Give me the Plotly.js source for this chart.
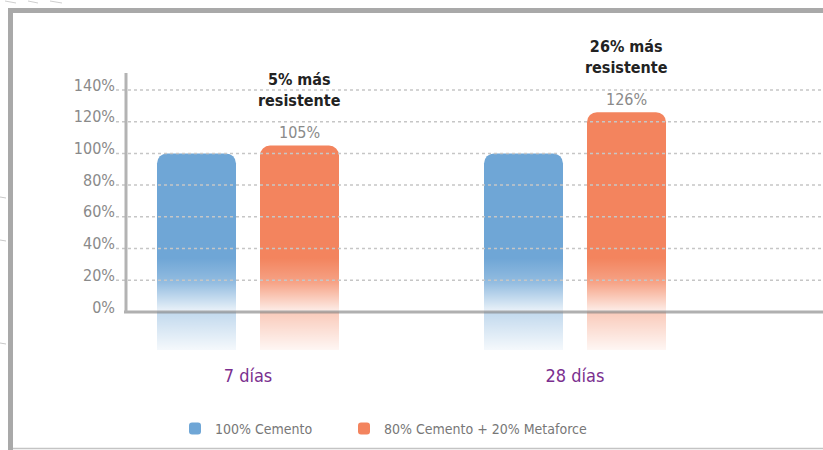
<!DOCTYPE html>
<html>
<head>
<meta charset="utf-8">
<script src="https://cdn.plot.ly/plotly-3.0.1.min.js"></script>
<style>html,body{margin:0;padding:0;background:#fff;}#chart{width:823px;height:450px;}</style>
</head>
<body>
<div id="chart"></div>
<script>
// ---- data ----
const categories = ['7 días', '28 días'];
const seriesNames = ['100% Cemento', '80% Cemento + 20% Metaforce'];
const cemento = [100, 100];
const metaforce = [105, 126];
const yTickValues = [0, 20, 40, 60, 80, 100, 120, 140];
const yTickLabels = ['0%', '20%', '40%', '60%', '80%', '100%', '120%', '140%'];

// ---- style / layout constants ----
const W = 823, H = 450;
const M = {l: 126, r: 0, t: 20, b: 100};
const REFLECT = -24;         // bars continue below the axis as a faded reflection
const FADE_TOP = 34;         // value where the bar starts fading
const BARGAP = 0.37, GROUPGAP = 0.233;
const slot = (1 - BARGAP) / 2;
const barW = slot * (1 - GROUPGAP);
const offs = [-slot / 2, slot / 2];
const colors = ['#6fa6d6', '#f3845e'];
const FONT = '"DejaVu Sans Condensed", "Liberation Sans Narrow", "Roboto", sans-serif';

const catPos = categories.map((c, i) => i);
const plotW = W - M.l - M.r, plotH = H - M.t - M.b;
const px2x = p => (p - M.l) / plotW;          // paper x from pixel
const px2y = p => (H - M.b - p) / plotH;      // paper y from pixel

const traces = [];
[cemento, metaforce].forEach((vals, s) => {
  traces.push({
    type: 'bar', name: seriesNames[s], legend: s === 0 ? 'legend' : 'legend2',
    offsetgroup: 'g' + s, x: catPos, y: vals,
    marker: {color: colors[s], cornerradius: 10, line: {width: 0}}, hoverinfo: 'skip'
  });
  // reflection below the axis (decorative, square ends)
  traces.push({
    type: 'bar', name: seriesNames[s], showlegend: false,
    offsetgroup: 'g' + s, x: catPos, y: vals.map(() => REFLECT),
    marker: {color: colors[s], line: {width: 0}}, hoverinfo: 'skip'
  });
});

// gradient overlay (white fade) drawn over the lower part of each bar
const zeroOff = FADE_TOP / (FADE_TOP - REFLECT);
const gradSvg = "<svg xmlns='http://www.w3.org/2000/svg' width='10' height='100' viewBox='0 0 10 100' preserveAspectRatio='none'>" +
  "<defs><linearGradient id='g' x1='0' y1='0' x2='0' y2='1'>" +
  "<stop offset='0' stop-color='#fff' stop-opacity='0'/>" +
  "<stop offset='" + (zeroOff * 0.45).toFixed(3) + "' stop-color='#fff' stop-opacity='0.25'/>" +
  "<stop offset='" + (zeroOff - 0.008).toFixed(3) + "' stop-color='#fff' stop-opacity='0.86'/>" +
  "<stop offset='" + (zeroOff + 0.008).toFixed(3) + "' stop-color='#fff' stop-opacity='0.58'/>" +
  "<stop offset='1' stop-color='#fff' stop-opacity='0.93'/>" +
  "</linearGradient></defs><rect width='10' height='100' fill='url(#g)'/></svg>";
const gradSrc = 'data:image/svg+xml;charset=utf-8,' + encodeURIComponent(gradSvg);
const images = [];
[cemento, metaforce].forEach((vals, s) => {
  vals.forEach((v, i) => {
    images.push({
      source: gradSrc, xref: 'x', yref: 'y',
      x: catPos[i] + offs[s] - barW / 2, y: FADE_TOP,
      sizex: barW, sizey: FADE_TOP - REFLECT,
      xanchor: 'left', yanchor: 'top', sizing: 'stretch', layer: 'above'
    });
  });
});

const shapes = [];
// dashed gridlines above bars
yTickValues.filter(v => v > 0).forEach(v => {
  shapes.push({type: 'line', xref: 'paper', yref: 'y', x0: px2x(116), x1: 1, y0: v, y1: v,
    line: {color: '#c6c6c6', width: 1.5, dash: '3px,3px'}, layer: 'above'});
});
// x axis (0%) line
shapes.push({type: 'line', xref: 'paper', yref: 'y', x0: px2x(124), x1: 1, y0: 0, y1: 0,
  line: {color: 'rgba(128,128,128,0.62)', width: 3}, layer: 'above'});
// y axis line
shapes.push({type: 'line', xref: 'paper', yref: 'paper', x0: px2x(126), x1: px2x(126), y0: px2y(312), y1: px2y(73),
  line: {color: '#b3b3b3', width: 3}, layer: 'above'});
// frame
shapes.push({type: 'rect', xref: 'paper', yref: 'paper', x0: px2x(8), x1: px2x(13), y0: px2y(450), y1: px2y(8),
  fillcolor: '#a9a9a9', line: {width: 0}, layer: 'above'});
shapes.push({type: 'rect', xref: 'paper', yref: 'paper', x0: px2x(8), x1: px2x(823), y0: px2y(13), y1: px2y(8),
  fillcolor: '#a9a9a9', line: {width: 0}, layer: 'above'});
shapes.push({type: 'line', xref: 'paper', yref: 'paper', x0: px2x(13), x1: px2x(823), y0: px2y(448.5), y1: px2y(448.5),
  line: {color: '#c4c4c4', width: 1.5}, layer: 'above'});
// small marks at far left and top-left
[197, 240, 343].forEach(p => shapes.push({type: 'line', xref: 'paper', yref: 'paper',
  x0: px2x(0), x1: px2x(6), y0: px2y(p), y1: px2y(p + 1), line: {color: '#c8c8c8', width: 1}, layer: 'above'}));
[[5, 16], [28, 38], [50, 62]].forEach(([a, b]) => shapes.push({type: 'line', xref: 'paper', yref: 'paper',
  x0: px2x(a), x1: px2x(b), y0: px2y(1), y1: px2y(3), line: {color: '#cfcfcf', width: 1}, layer: 'above'}));

const annotations = [];
metaforce.forEach((v, i) => {
  const x = catPos[i] + offs[1];
  annotations.push({x: x, y: v, xref: 'x', yref: 'y', text: v + '%', showarrow: false,
    yanchor: 'bottom', yshift: 1, font: {family: FONT, size: 16, color: '#8a8a8a'}});
  annotations.push({x: x, y: v, xref: 'x', yref: 'y',
    text: '<b>' + (v - cemento[i]) + '% más<br>resistente</b>', showarrow: false,
    yanchor: 'bottom', yshift: 33, font: {family: FONT, size: 16, color: '#222222'}});
});

const legendBase = {
  orientation: 'h', xanchor: 'left', y: px2y(445), yanchor: 'bottom',
  font: {family: FONT, size: 14, color: '#777777'},
  bgcolor: 'rgba(0,0,0,0)', borderwidth: 0
};

const layout = {
  width: W, height: H,
  margin: M,
  paper_bgcolor: '#fff', plot_bgcolor: 'rgba(0,0,0,0)',
  barmode: 'group', bargap: BARGAP, bargroupgap: GROUPGAP,
  xaxis: {
    range: [(M.l - 248) / 327, (W - 248) / 327],
    tickvals: catPos, ticktext: categories,
    showgrid: false, zeroline: false, showline: false, ticks: '',
    ticklabelstandoff: 13,
    tickfont: {family: FONT, size: 18, color: '#7b2f8f'}
  },
  yaxis: {
    range: [REFLECT, (312 - M.t) / ((312 - 90) / 140)],
    tickvals: yTickValues, ticktext: yTickLabels,
    showgrid: false, zeroline: false, showline: false, ticks: '',
    ticklabelstandoff: 10, ticklabelshift: -5,
    tickfont: {family: FONT, size: 16, color: '#8a8a8a'}
  },
  showlegend: true,
  legend: Object.assign({}, legendBase, {x: px2x(175)}),
  legend2: Object.assign({}, legendBase, {x: px2x(344)}),
  images: images,
  shapes: shapes,
  annotations: annotations
};

Plotly.newPlot('chart', traces, layout, {displayModeBar: false, staticPlot: true});
</script>
</body>
</html>
